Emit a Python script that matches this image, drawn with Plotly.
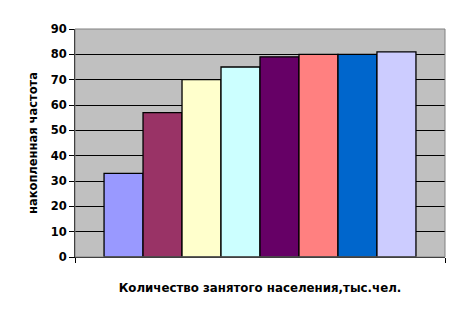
import plotly.graph_objects as go

categories = [""]
series_names = ["1", "2", "3", "4", "5", "6", "7", "8"]
values = [33, 57, 70, 75, 79, 80, 80, 81]
colors = ["#9999FF", "#993366", "#FFFFCC", "#CCFFFF", "#660066", "#FF8080", "#0066CC", "#CCCCFF"]
y_ticks = [0, 10, 20, 30, 40, 50, 60, 70, 80, 90]

fig = go.Figure()
for name, v, c in zip(series_names, values, colors):
    fig.add_trace(go.Bar(x=categories, y=[v], name=name, marker=dict(color=c, line=dict(color="black", width=1.3))))

font = "DejaVu Sans, Verdana, sans-serif"
fig.update_layout(
    width=460, height=320,
    margin=dict(l=75, r=15, t=29, b=63),
    paper_bgcolor="white", plot_bgcolor="#C0C0C0",
    barmode="group", bargap=0.157, bargroupgap=0,
    showlegend=False,
    font=dict(family=font, color="black"),
    xaxis=dict(
        showticklabels=False, showgrid=False, showline=True, linecolor="black", linewidth=1,
        ticks="outside", tickson="boundaries", ticklen=5, tickcolor="black",
        title=dict(text="<b>Количество занятого населения,тыс.чел.</b>", font=dict(size=11.8, family=font), standoff=26),
    ),
    yaxis=dict(
        range=[0, 90], tickvals=y_ticks, ticktext=[f"<b>{t}</b>" for t in y_ticks],
        tickfont=dict(size=11.5, family=font), showgrid=True, gridcolor="black", gridwidth=1,
        showline=True, linecolor="black", linewidth=1, ticks="outside", ticklen=5, tickcolor="black",
        zeroline=False,
        title=dict(text="<b>накопленная частота</b>", font=dict(size=11.5, family=font), standoff=10),
    ),
    shapes=[dict(type="rect", xref="paper", yref="paper", x0=0, y0=0, x1=1, y1=1,
                 line=dict(color="#808080", width=1), layer="above")],
)
fig.write_html("out.html")
